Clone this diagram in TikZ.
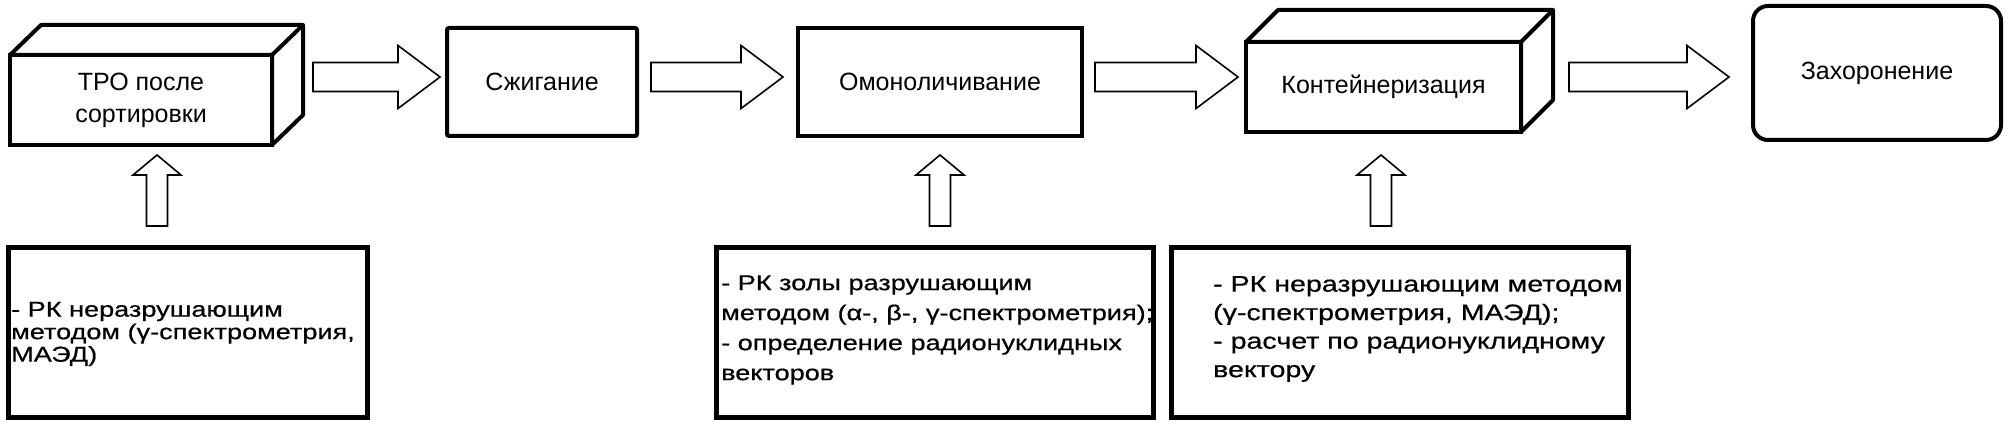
\documentclass[tikz,border=0pt]{standalone}
\usepackage{fontspec}
\setmainfont{Liberation Sans}
\newfontfamily\bfont[FakeStretch=1.26,FakeBold=0.6]{Liberation Sans}
\newfontfamily\cfont[FakeStretch=1.27,FakeBold=0.6]{Liberation Sans}
\usetikzlibrary{calc}
\tikzset{
  box/.style={draw, line width=4pt, inner sep=0pt, outer sep=0pt, fill=white,
    font=\fontsize{25}{32}\selectfont, align=center},
  blk/.style={draw, line width=1.6pt, fill=white, line join=miter},
  cubeface/.style={draw, line width=4pt, fill=white, line join=round},
  infobox/.style={draw, line width=5pt, inner sep=0pt, outer sep=0pt},
  infotext/.style={inner sep=0pt, anchor=west, align=left,
    font=\bfont\fontsize{21.5}{#1}\selectfont},
  infotextb/.style={inner sep=0pt, anchor=west, align=left,
    font=\cfont\fontsize{22.5}{#1}\selectfont},
}
\newcommand\blockR[2]{\draw[blk] let \p1=(#1), \p2=(#2) in
  (\x1,\y1+14.5pt) -- (\x2-42pt,\y1+14.5pt) -- (\x2-42pt,\y1+31.5pt) -- (\x2,\y1)
  -- (\x2-42pt,\y1-31.5pt) -- (\x2-42pt,\y1-14.5pt) -- (\x1,\y1-14.5pt) -- cycle;}
\newcommand\blockU[2]{\draw[blk] let \p1=(#1), \p2=(#2) in
  (\x1-10.5pt,\y1) -- (\x1-10.5pt,\y2-20pt) -- (\x1-24pt,\y2-20pt) -- (\x1,\y2)
  -- (\x1+24pt,\y2-20pt) -- (\x1+10.5pt,\y2-20pt) -- (\x1+10.5pt,\y1) -- cycle;}
\begin{document}
\begin{tikzpicture}[x=1pt,y=-1pt]
\fill[white] (0,0) rectangle (2011,425);
\useasboundingbox (0,0) rectangle (2011,425);

% top row
\node[box, minimum width=262pt, minimum height=90pt] (c1) at (141,100) {ТРО после\\сортировки};
\draw[cubeface] (c1.north west) -- ++(31,-30) -- ++(262,0) -- ++(0,90) -- (c1.south east) -- (c1.north east) -- cycle;
\draw[cubeface] (c1.north east) -- ++(31,-30);

\node[box, rounded corners=2pt, minimum width=190pt, minimum height=108pt] (b2) at (542,82) {Сжигание};
\node[box, minimum width=284pt, minimum height=108pt] (b3) at (940,82) {Омоноличивание};

\node[box, minimum width=275pt, minimum height=90pt] (c4) at (1383.5,87) {Контейнеризация};
\draw[cubeface] (c4.north west) -- ++(32,-32) -- ++(275,0) -- ++(0,90) -- (c4.south east) -- (c4.north east) -- cycle;
\draw[cubeface] (c4.north east) -- ++(32,-32);

\node[box, rounded corners=15pt, minimum width=248pt, minimum height=134pt] (b5) at (1877,73) {Захоронение};

% horizontal block arrows
\coordinate (r1s) at (313,77);  \coordinate (r1e) at (440,77);
\coordinate (r2s) at (651,77);  \coordinate (r2e) at (783,77);
\coordinate (r3s) at (1095,77); \coordinate (r3e) at (1238,77);
\coordinate (r4s) at (1569,77); \coordinate (r4e) at (1729,77);
\blockR{r1s}{r1e}
\blockR{r2s}{r2e}
\blockR{r3s}{r3e}
\blockR{r4s}{r4e}

% bottom boxes
\node[infobox, minimum width=359pt, minimum height=170pt] (i1) at (187.5,332) {};
\node[infobox, minimum width=437pt, minimum height=170pt] (i2) at (934.5,332) {};
\node[infobox, minimum width=457pt, minimum height=170pt] (i3) at (1399.5,332) {};

\node[infotext=22.5] (t1) at (11,334) {- РК неразрушающим\\методом (γ-спектрометрия,\\МАЭД)};
\node[infotext=30] (t2) at (721,330) {- РК золы разрушающим\\методом (α-, β-, γ-спектрометрия);\\- определение радионуклидных\\векторов};
\node[infotextb=28.5] (t3) at (1213,329) {- РК неразрушающим методом\\(γ-спектрометрия, МАЭД);\\- расчет по радионуклидному\\вектору};

% vertical block arrows
\coordinate (u1b) at (157,226);  \coordinate (u1t) at (157,155);
\coordinate (u2b) at (940,226);  \coordinate (u2t) at (940,155);
\coordinate (u3b) at (1381,226); \coordinate (u3t) at (1381,155);
\blockU{u1b}{u1t}
\blockU{u2b}{u2t}
\blockU{u3b}{u3t}
\end{tikzpicture}
\end{document}
